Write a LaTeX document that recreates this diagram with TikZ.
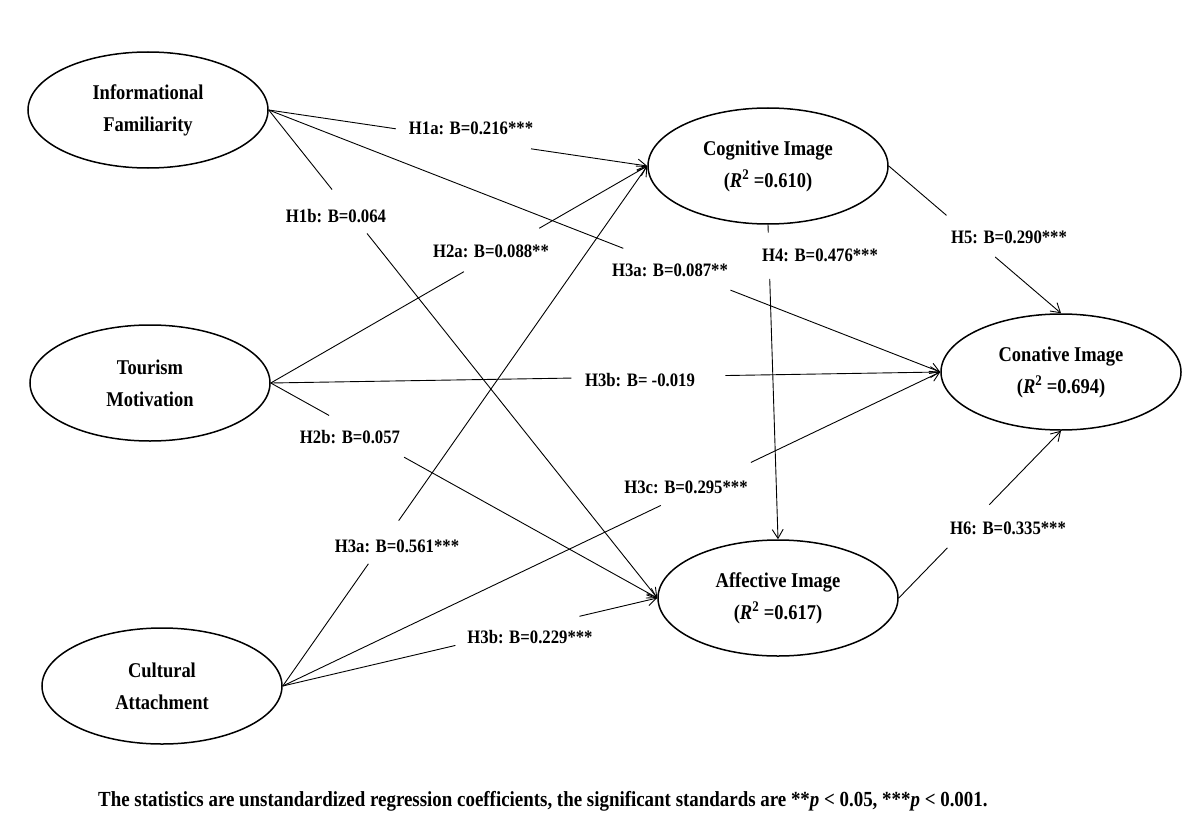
\documentclass[tikz,border=0pt]{standalone}
\usepackage{fontspec}
\setmainfont{Liberation Serif}[FakeStretch=0.88]
\usetikzlibrary{arrows.meta,shapes.geometric,calc}
\newcommand\gapedge[4]{%
  \draw[conn] (#1) -- ($(#1)!#3!(#2)$);
  \draw[conn,arr] ($(#1)!#4!(#2)$) -- (#2);}
\begin{document}
\begin{tikzpicture}[x=1pt,y=-1pt,
  lat/.style={ellipse,draw,line width=1.5pt,minimum width=240pt,minimum height=116pt,
    inner sep=0pt,align=center,font=\bfseries\fontsize{21}{32}\selectfont},
  conn/.style={line width=0.9pt},
  arr/.style={-{Straight Barb[length=9pt,width=11pt]}},
  lab/.style={font=\bfseries\fontsize{19}{22}\selectfont,inner sep=0pt}]
\useasboundingbox[fill=white] (0,0) rectangle (1204,840);

\node[lat] (IF)   at (148,110) {Informational\\Familiarity};
\node[lat] (TM)   at (150,383) {Tourism\\Motivation};
\node[lat] (CA)   at (162,686) {Cultural\\Attachment};
\node[lat] (CogI) at (768,166) {Cognitive Image\\(\textit{R}\textsuperscript{2} =0.610)};
\node[lat] (ConI) at (1061,372) {Conative Image\\(\textit{R}\textsuperscript{2} =0.694)};
\node[lat] (AffI) at (778,598) {Affective Image\\(\textit{R}\textsuperscript{2} =0.617)};

\gapedge{IF.east}{CogI.west}{0.336}{0.693}
\gapedge{IF.east}{AffI.west}{0.163}{0.253}
\gapedge{IF.east}{ConI.west}{0.528}{0.6875}
\gapedge{TM.east}{CogI.west}{0.513}{0.713}
\gapedge{TM.east}{ConI.west}{0.449}{0.679}
\gapedge{TM.east}{AffI.west}{0.151}{0.345}
\gapedge{CA.east}{CogI.west}{0.235}{0.318}
\gapedge{CA.east}{ConI.west}{0.575}{0.712}
\gapedge{CA.east}{AffI.west}{0.461}{0.792}
\gapedge{CogI.south}{AffI.north}{0.025}{0.172}
\gapedge{CogI.east}{ConI.north}{0.335}{0.618}
\gapedge{AffI.east}{ConI.south}{0.30}{0.558}

\node[lab] (l1a) at (471,128) {H1a: B=0.216***};
\node[lab] (l1b) at (336,216) {H1b: B=0.064};
\node[lab] (l3a1) at (670,270) {H3a: B=0.087**};
\node[lab] (l2a) at (491,251) {H2a: B=0.088**};
\node[lab] (l3b1) at (640,380) {H3b: B= -0.019};
\node[lab] (l2b) at (350,437) {H2b: B=0.057};
\node[lab] (l3a2) at (397,546) {H3a: B=0.561***};
\node[lab] (l3c) at (686,487) {H3c: B=0.295***};
\node[lab] (l3b2) at (530,637) {H3b: B=0.229***};
\node[lab] (l4) at (820,255) {H4: B=0.476***};
\node[lab] (l5) at (1009,237) {H5: B=0.290***};
\node[lab] (l6) at (1008,528) {H6: B=0.335***};

\node[lab,anchor=west,font=\bfseries\fontsize{21.5}{24}\selectfont] (note) at (98,801)
  {The statistics are unstandardized regression coefficients, the significant standards are **\textit{p} < 0.05, ***\textit{p} < 0.001.};
\end{tikzpicture}
\end{document}
